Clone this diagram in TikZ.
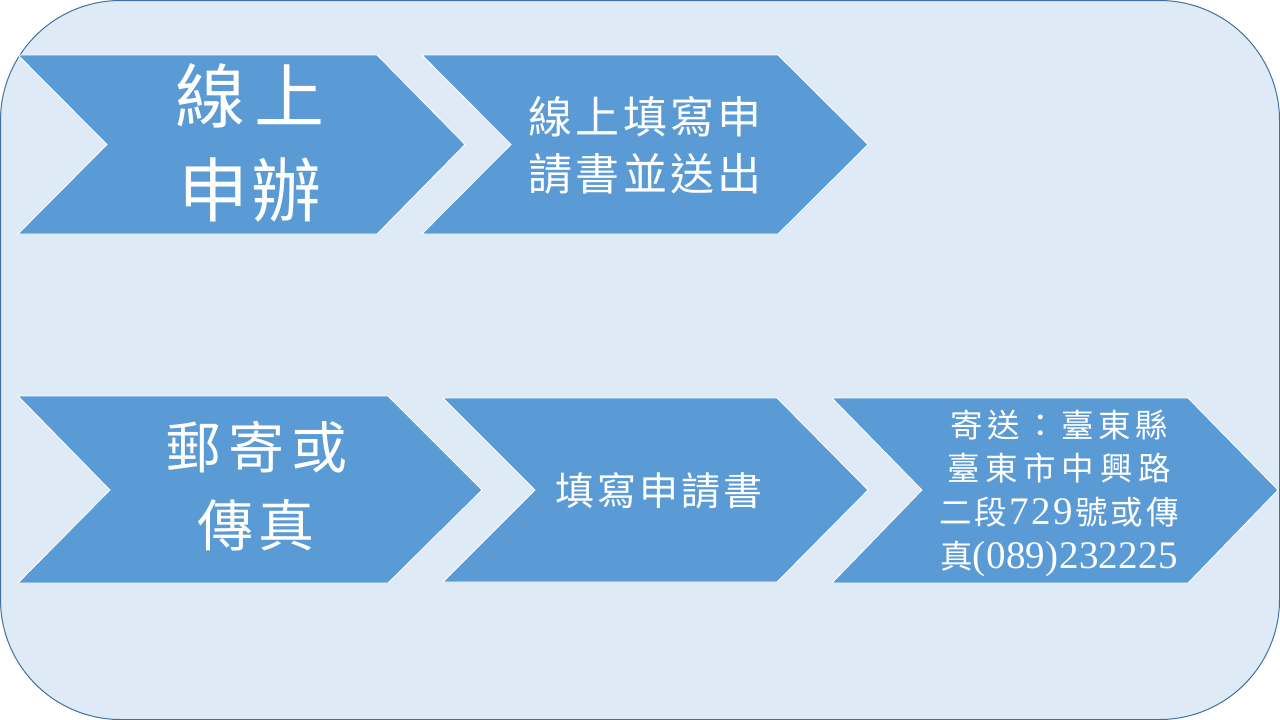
\documentclass[tikz,border=0pt]{standalone}
\usepackage{fontspec}
\newfontfamily\cjk{Noto Sans CJK TC}
\newfontfamily\lat{Liberation Serif}
\definecolor{bgfill}{HTML}{DEEBF7}
\definecolor{bord}{HTML}{41719C}
\definecolor{chev}{HTML}{5B9BD5}
\makeatletter
\newcommand\spreadln[2]{\makebox[#1][s]{\@tfor\sp@ch:=#2\do{\sp@ch\hfill}\unskip}}
\makeatother
\newcommand\dg[1]{{\lat\fontsize{39}{43}\selectfont #1}}
\tikzset{
  chevshape/.style={fill=chev, draw=white, line width=0.8pt},
  lbl/.style={text=white, inner sep=0pt, align=center},
}
\begin{document}
\begin{tikzpicture}[x=1pt,y=-1pt]
\useasboundingbox (0,0) rectangle (1280,720);
\fill[white] (0,0) rectangle (1280,720);
\draw[bord, fill=bgfill, line width=1pt, rounded corners=120pt] (0.5,0.5) rectangle (1279.5,719.5);

% row 1
\path[chevshape] (18,55) -- (377,55) -- (465,144.5) -- (377,234) -- (18,234) -- (107,144.5) -- cycle;
\path[chevshape] (422,55) -- (778,55) -- (868,144.5) -- (778,234) -- (422,234) -- (511,144.5) -- cycle;
% row 2
\path[chevshape] (18,396) -- (388,396) -- (482,490) -- (388,583) -- (18,583) -- (110,490) -- cycle;
\path[chevshape] (443,398) -- (777,398) -- (868,490) -- (777,582) -- (443,582) -- (535,490) -- cycle;
\path[chevshape] (832,398) -- (1188,398) -- (1278,490) -- (1188,583) -- (832,583) -- (922,490) -- cycle;

\node[lbl, font=\cjk\fontsize{70}{94}\selectfont] (a) at (250,143)
  {\spreadln{149pt}{線上}\\\spreadln{143pt}{申辦}};
\node[lbl, font=\cjk\fontsize{44}{57}\selectfont] (b) at (645,145.5)
  {\spreadln{234pt}{線上填寫申}\\\spreadln{234pt}{請書並送出}};
\node[lbl, font=\cjk\fontsize{56}{78}\selectfont] (c) at (256,486)
  {\spreadln{182pt}{郵寄或}\\\spreadln{118pt}{傳真}};
\node[lbl, font=\cjk\fontsize{39}{45}\selectfont] (d) at (659,490.5)
  {\spreadln{208pt}{填寫申請書}};
\node[lbl, font=\cjk\fontsize{32.5}{43.7}\selectfont] (e) at (1059,493)
  {\spreadln{218pt}{寄送：臺東縣}\\
   \spreadln{224pt}{臺東市中興路}\\
   \spreadln{239pt}{二段{\dg7}{\dg2}{\dg9}號或傳}\\
   \spreadln{238pt}{真{\dg(}{\dg0}{\dg8}{\dg9}{\dg)}{\dg2}{\dg3}{\dg2}{\dg2}{\dg2}{\dg5}}};
\end{tikzpicture}
\end{document}
